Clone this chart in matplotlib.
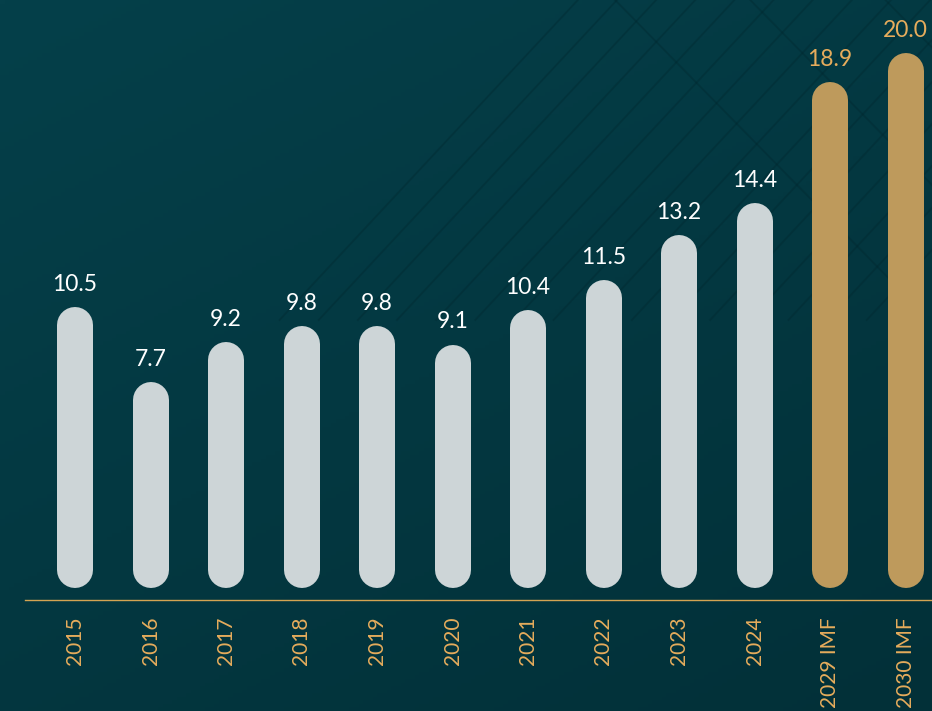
import numpy as np
import matplotlib
matplotlib.use("Agg")
import matplotlib.pyplot as plt

years = ['2015', '2016', '2017', '2018', '2019', '2020', '2021', '2022', '2023', '2024', '2029 IMF', '2030 IMF']
values = [10.5, 7.7, 9.2, 9.8, 9.8, 9.1, 10.4, 11.5, 13.2, 14.4, 18.9, 20.0]
is_forecast = [False] * 10 + [True] * 2

GREY = '#CDD5D7'
GOLD_BAR = '#BE9A5C'
GOLD_TXT = '#E6AC5C'
plt.rcParams['font.family'] = ['Lato', 'DejaVu Sans']

W, H, DPI = 932, 711, 100
fig = plt.figure(figsize=(W / DPI, H / DPI), dpi=DPI)

# background gradient
bg = fig.add_axes([0, 0, 1, 1])
yy, xx = np.mgrid[0:1:200j, 0:1:200j]
t = np.clip(0.6 * yy + 0.4 * xx, 0, 1)
top = np.array([0x05, 0x40, 0x4A]) / 255
bot = np.array([0x02, 0x30, 0x38]) / 255
img = top[None, None, :] * (1 - t[..., None]) + bot[None, None, :] * t[..., None]
bg.imshow(img, extent=[0, 1, 0, 1], origin='upper', aspect='auto')
# faint diagonal pattern top-right
for k in np.linspace(0.62, 1.25, 16):
    bg.plot([k, k - 0.32], [1.0, 0.55], color='#01262D', lw=1.3, alpha=0.35)
for k in np.linspace(0.66, 0.95, 3):
    bg.plot([k, k + 0.3], [1.0, 0.6], color='#01262D', lw=1.3, alpha=0.35)
bg.set_xlim(0, 1)
bg.set_ylim(0, 1)
bg.axis('off')

# main axes in data units
px_per_unit = 26.75
x0_px, dx_px = 75.0, 75.5
zero_px = 588.0
ax = fig.add_axes([0, 0, 1, 1])
ax.set_xlim(-x0_px / dx_px, (W - x0_px) / dx_px)
ax.set_ylim(-(H - zero_px) / px_per_unit, zero_px / px_per_unit)
ax.patch.set_alpha(0)
ax.axis('off')

bar_px = 36
lw_pt = bar_px * 72 / DPI
r = (bar_px / 2) / px_per_unit
for i, (v, f) in enumerate(zip(values, is_forecast)):
    c = GOLD_BAR if f else GREY
    ax.plot([i, i], [r, v - r], color=c, lw=lw_pt, solid_capstyle='round')
    ax.text(i, v + 0.85, f'{v:.1f}', ha='center', va='center', fontsize=16.5,
            color=GOLD_TXT if f else 'white')
    ax.text(i, -1.08, years[i], rotation=90, ha='center', va='top', fontsize=15,
            color=GOLD_TXT)

base_y = -12 / px_per_unit
ax.plot([(25 - x0_px) / dx_px, (W - x0_px) / dx_px], [base_y, base_y], color='#D4A452', lw=1)

fig.savefig('out.png', dpi=DPI)
